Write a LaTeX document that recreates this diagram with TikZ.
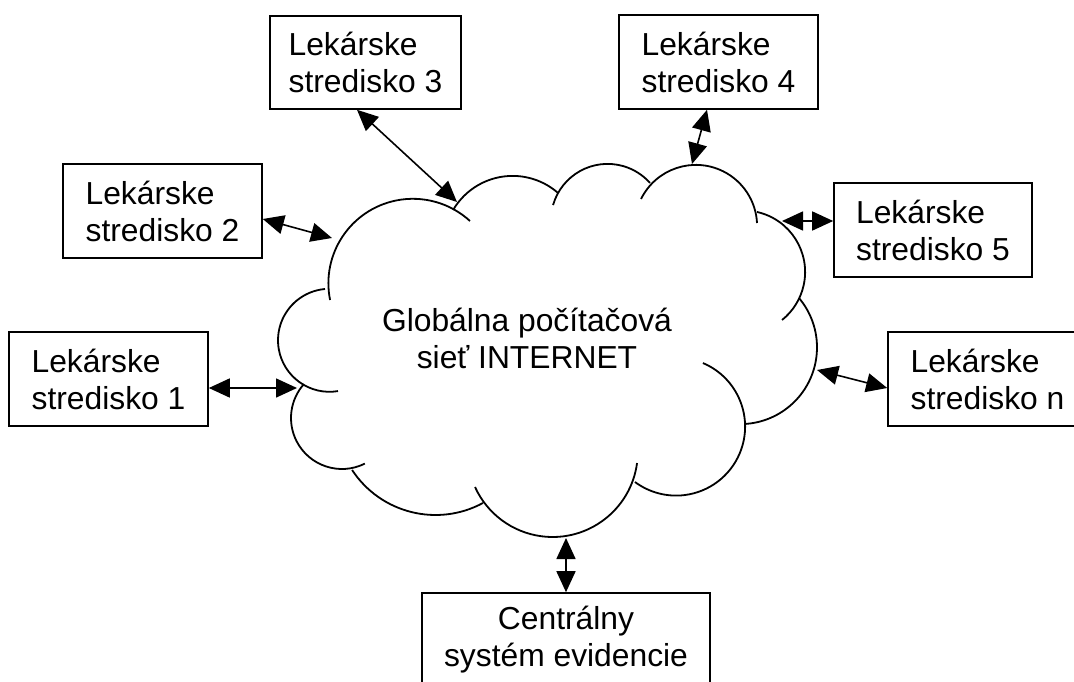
\documentclass[tikz,border=0pt]{standalone}
\usepackage{fontspec}
\setmainfont{Liberation Sans}
\usetikzlibrary{arrows.meta,calc}
\newcommand\cloudarc[5]{\draw[cl] ([shift={(#4:#3)}]#1,-#2) arc[start angle=#4,end angle=#5,radius=#3];}
\begin{document}
\begin{tikzpicture}[x=1pt,y=1pt,
  txt/.style={font=\fontsize{31.8}{37}\selectfont},
  box/.style={draw,line width=1.6pt,align=left,minimum height=94pt,inner sep=0pt,txt},
  cbox/.style={box,align=center},
  cl/.style={line width=1.8pt},
  bi/.style={line width=1.6pt,{Triangle[length=21pt,width=19pt]}-{Triangle[length=21pt,width=19pt]}}]
\useasboundingbox (0,0) rectangle (1074,-682);
\clip (0,0) rectangle (1074,-682);
\fill[white] (0,0) rectangle (1074,-682);
% cloud
\cloudarc{412.9}{283.3}{84.5}{191.4}{47.5}
\cloudarc{512.6}{244.9}{69.0}{149.6}{48.8}
\cloudarc{607.6}{220.6}{56.7}{164.1}{41.6}
\cloudarc{695.9}{226.1}{61.2}{153.7}{2.9}
\cloudarc{743.6}{272.0}{61.5}{77.4}{-51.3}
\cloudarc{740.3}{347.4}{76.7}{40.1}{-86.5}
\cloudarc{676.1}{426.6}{69.0}{67.1}{-126.6}
\cloudarc{552.6}{451.8}{85.2}{-7.6}{-155.6}
\cloudarc{435.5}{415.2}{99.8}{-61.6}{-146.7}
\cloudarc{342}{418}{51}{-63.4}{-221.7}
\cloudarc{329.5}{340.3}{51.5}{-80.5}{-265}
\node[txt,align=center,inner sep=0pt] (net) at (527,-338) {Globálna počítačová\\sieť INTERNET};
% boxes
\node[box,minimum width=199pt] (b1) at (108.5,-379) {Lekárske\\stredisko 1};
\node[box,minimum width=199pt] (b2) at (162.5,-211) {Lekárske\\stredisko 2};
\node[box,minimum width=191pt,minimum height=93pt] (b3) at (365.5,-62.5) {Lekárske\\stredisko 3};
\node[box,minimum width=199pt] (b4) at (718.5,-62) {Lekárske\\stredisko 4};
\node[box,minimum width=198pt] (b5) at (933,-230) {Lekárske\\stredisko 5};
\node[box,minimum width=199pt] (bn) at (987.5,-379) {Lekárske\\stredisko n};
\node[cbox,minimum width=288pt] (bc) at (566,-640) {Centrálny\\systém evidencie};
% connection points on the cloud
\coordinate (c1) at (297,-388);
\coordinate (c2) at (332,-238);
\coordinate (c3) at (457,-202);
\coordinate (c4) at (692,-164);
\coordinate (c5) at (782,-221);
\coordinate (cn) at (817,-370);
\coordinate (cc) at (566,-538);
% connectors
\draw[bi] (b1.east |- c1) -- (c1);
\draw[bi] ([yshift=-8pt]b2.east) -- (c2);
\draw[bi] ([xshift=-8.5pt]b3.south) -- (c3);
\draw[bi] ([xshift=-11.5pt]b4.south) -- (c4);
\draw[bi] (b5.west |- c5) -- (c5);
\draw[bi] ([yshift=-9pt]bn.west) -- (cn);
\draw[bi] (bc.north) -- (cc);
\end{tikzpicture}
\end{document}
